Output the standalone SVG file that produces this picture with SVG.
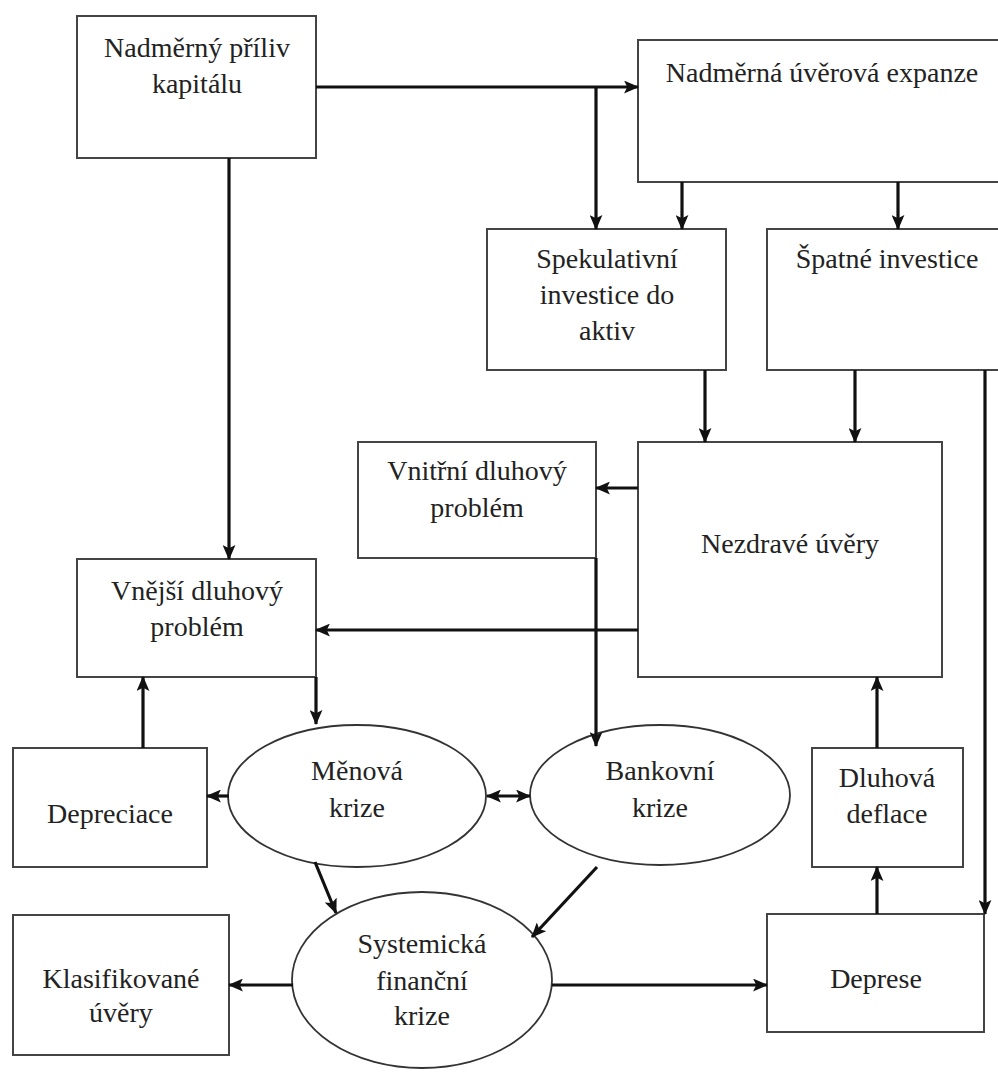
<svg xmlns="http://www.w3.org/2000/svg" width="998" height="1074" viewBox="0 0 998 1074">
<style>
.box{fill:#fff;stroke:#444;stroke-width:2}
.ell{fill:#fff;stroke:#333;stroke-width:1.8}
.t{font-family:"Liberation Serif","Times New Roman",serif;font-size:28px;fill:#222;text-anchor:middle}
.c{fill:none;stroke:#111;stroke-width:3.2}
.a{marker-end:url(#ah)}
</style>
<defs>
<marker id="ah" viewBox="0 0 14 12" refX="13" refY="6" markerWidth="15" markerHeight="13" markerUnits="userSpaceOnUse" orient="auto-start-reverse">
<path d="M0,0 L14,6 L0,12 L3,6 z" fill="#111"/>
</marker>
</defs>
<rect width="998" height="1074" fill="#fff"/>
<g id="n1"><rect class="box" x="77" y="16" width="239" height="142"/><text class="t" x="197" y="57">Nadměrný příliv</text><text class="t" x="197" y="93">kapitálu</text></g>
<g id="n2"><rect class="box" x="638" y="40" width="368" height="142"/><text class="t" x="822" y="82">Nadměrná úvěrová expanze</text></g>
<g id="n3"><rect class="box" x="487" y="229" width="239" height="141"/><text class="t" x="607" y="268">Spekulativní</text><text class="t" x="607" y="304">investice do</text><text class="t" x="607" y="340">aktiv</text></g>
<g id="n4"><rect class="box" x="767" y="229" width="240" height="141"/><text class="t" x="887" y="268">Špatné investice</text></g>
<g id="n5"><rect class="box" x="358" y="442" width="238" height="116"/><text class="t" x="477" y="480">Vnitřní dluhový</text><text class="t" x="477" y="517">problém</text></g>
<g id="n6"><rect class="box" x="638" y="442" width="304" height="235"/><text class="t" x="790" y="553">Nezdravé úvěry</text></g>
<g id="n7"><rect class="box" x="77" y="559" width="239" height="118"/><text class="t" x="197" y="600">Vnější dluhový</text><text class="t" x="197" y="636">problém</text></g>
<g id="n8"><rect class="box" x="13" y="748" width="194" height="119"/><text class="t" x="110" y="823">Depreciace</text></g>
<g id="n9"><ellipse class="ell" cx="357" cy="796" rx="129" ry="71"/><text class="t" x="357" y="780">Měnová</text><text class="t" x="357" y="817">krize</text></g>
<g id="n10"><ellipse class="ell" cx="660" cy="795" rx="130" ry="70"/><text class="t" x="660" y="780">Bankovní</text><text class="t" x="660" y="817">krize</text></g>
<g id="n11"><rect class="box" x="812" y="748" width="151" height="119"/><text class="t" x="887" y="787">Dluhová</text><text class="t" x="887" y="823">deflace</text></g>
<g id="n12"><ellipse class="ell" cx="422" cy="980" rx="130" ry="88"/><text class="t" x="422" y="953">Systemická</text><text class="t" x="422" y="990">finanční</text><text class="t" x="422" y="1025">krize</text></g>
<g id="n13"><rect class="box" x="13" y="915" width="216" height="140"/><text class="t" x="121" y="988">Klasifikované</text><text class="t" x="121" y="1022">úvěry</text></g>
<g id="n14"><rect class="box" x="767" y="914" width="217" height="118"/><text class="t" x="876" y="988">Deprese</text></g>
<g id="connectors">
<line class="c a" x1="316" y1="87" x2="638" y2="87"/>
<line class="c a" x1="596" y1="87" x2="596" y2="229"/>
<line class="c a" x1="682" y1="182" x2="682" y2="229"/>
<line class="c a" x1="898" y1="182" x2="898" y2="229"/>
<line class="c a" x1="705" y1="370" x2="705" y2="442"/>
<line class="c a" x1="855" y1="370" x2="855" y2="442"/>
<line class="c a" x1="985" y1="370" x2="985" y2="914"/>
<line class="c a" x1="638" y1="488" x2="596" y2="488"/>
<line class="c a" x1="596" y1="558" x2="596" y2="746"/>
<line class="c a" x1="229" y1="158" x2="229" y2="559"/>
<line class="c a" x1="638" y1="630" x2="316" y2="630"/>
<line class="c a" x1="316" y1="677" x2="316" y2="724"/>
<line class="c a" x1="143" y1="748" x2="143" y2="677"/>
<line class="c a" x1="229" y1="796" x2="207" y2="796"/>
<line class="c a" x1="487" y1="796" x2="530" y2="796" marker-start="url(#ah)"/>
<line class="c a" x1="315" y1="862" x2="336" y2="913"/>
<line class="c a" x1="597" y1="867" x2="532" y2="937"/>
<line class="c a" x1="293" y1="985" x2="229" y2="985"/>
<line class="c a" x1="552" y1="985" x2="767" y2="985"/>
<line class="c a" x1="877" y1="914" x2="877" y2="867"/>
<line class="c a" x1="877" y1="748" x2="877" y2="677"/>
</g>
</svg>
